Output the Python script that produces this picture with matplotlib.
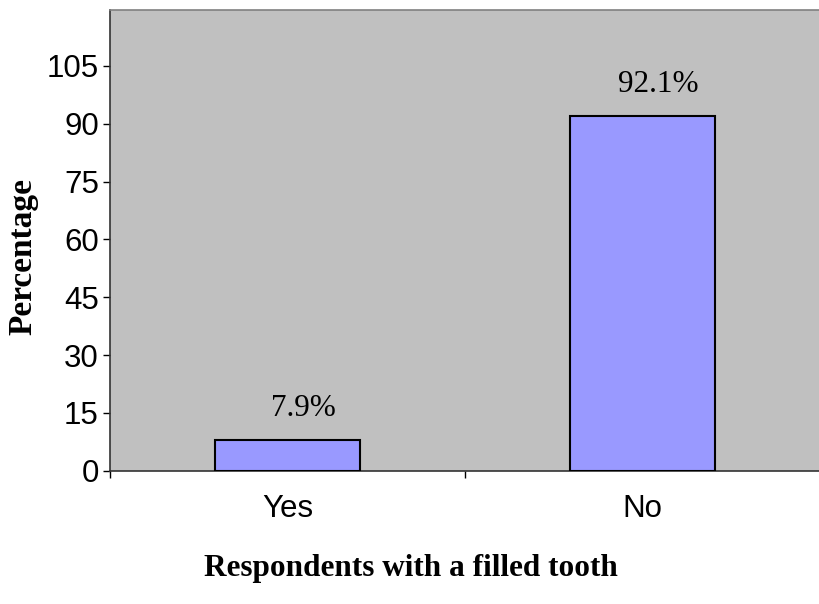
import matplotlib
matplotlib.use('Agg')
import matplotlib.pyplot as plt
from matplotlib.ticker import FixedLocator, NullFormatter

# survey result: filled tooth yes/no
categories = ['Yes', 'No']
percentages = [7.9, 92.1]
yticks = [0, 15, 30, 45, 60, 75, 90, 105]

fig = plt.figure(figsize=(8.2, 6.04), dpi=100)
ax = fig.add_axes([0.134, 0.2207, 0.866, 0.7627])
ax.set_facecolor('#C0C0C0')

x = list(range(len(categories)))
ax.bar(x, percentages, width=0.41, color='#9999FF', edgecolor='black', linewidth=1.5, zorder=3)

for xi, val in zip(x, percentages):
    ax.annotate(f'{val}%', xy=(xi, val), xytext=(16, 24), textcoords='offset pixels',
                ha='center', va='baseline', fontsize=22.5, family='Liberation Serif', zorder=4)

ax.set_xlim(-0.5, 1.5)
ax.set_ylim(0, 119.5)

ax.set_yticks(yticks)
ax.tick_params(axis='y', direction='out', length=5, width=1, pad=3, labelsize=22.5)
ax.set_xticks(x)
ax.set_xticklabels(categories)
ax.tick_params(axis='x', which='major', length=0, pad=17, labelsize=22.5)
ax.xaxis.set_minor_locator(FixedLocator([-0.5, 0.5, 1.5]))
ax.xaxis.set_minor_formatter(NullFormatter())
ax.tick_params(axis='x', which='minor', direction='out', length=5, width=1)

for lbl in ax.get_xticklabels() + ax.get_yticklabels():
    lbl.set_family('Liberation Sans')

ax.spines['left'].set_color('#333333')
ax.spines['bottom'].set_color('#333333')
ax.spines['top'].set_color('#808080')
ax.spines['right'].set_visible(False)
for s in ax.spines.values():
    s.set_linewidth(1.2)

ax.set_ylabel('Percentage', fontsize=24, fontweight='bold', family='Liberation Serif')
ax.yaxis.set_label_coords(-0.101, 0.466)
ax.set_xlabel('Respondents with a filled tooth', fontsize=22.5, fontweight='bold',
              family='Liberation Serif')
ax.xaxis.set_label_coords(0.424, -0.18)

fig.savefig('out.png', dpi=100)
